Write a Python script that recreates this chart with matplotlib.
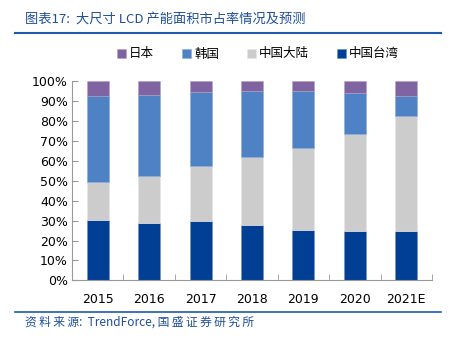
import numpy as np
import matplotlib
matplotlib.use("Agg")
import matplotlib.pyplot as plt
from matplotlib.ticker import PercentFormatter

plt.rcParams['font.family'] = ['Noto Sans CJK SC', 'DejaVu Sans']

years = ["2015", "2016", "2017", "2018", "2019", "2020", "2021E"]
taiwan = [30.2, 28.6, 29.8, 27.9, 25.4, 24.9, 24.9]
mainland = [19.0, 23.7, 27.5, 33.9, 41.1, 48.6, 57.7]
korea = [43.6, 41.0, 37.3, 33.3, 28.8, 20.8, 10.0]
japan = [7.2, 6.7, 5.4, 4.9, 4.7, 5.7, 7.4]

c_tw = "#003F94"
c_cn = "#CCCCCC"
c_kr = "#4F81C5"
c_jp = "#8064A2"


def spaced(s):
    # espacement entre caractères comme dans l'original
    return "\u2009".join(s)


fig = plt.figure(figsize=(4.53, 3.4), dpi=100)
ax = fig.add_axes([72 / 453, 1 - 280.3 / 340, 360 / 453, 199 / 340])

x = np.arange(len(years))
w = 0.43
b1 = np.array(taiwan)
b2 = b1 + np.array(mainland)
b3 = b2 + np.array(korea)
ax.bar(x, taiwan, w, color=c_tw, label="中国台湾", edgecolor="#6f8fc0", linewidth=0.4)
ax.bar(x, mainland, w, bottom=b1, color=c_cn, label="中国大陆", edgecolor="#e6e6e6", linewidth=0.4)
ax.bar(x, korea, w, bottom=b2, color=c_kr, label="韩国", edgecolor="#8aaad8", linewidth=0.4)
ax.bar(x, japan, w, bottom=b3, color=c_jp, label="日本", edgecolor="#b0a0c8", linewidth=0.4)

ax.set_xlim(-0.5, len(years) - 0.5)
ax.set_ylim(0, 100)
ax.set_yticks(np.arange(0, 101, 10))
ax.yaxis.set_major_formatter(PercentFormatter(decimals=0))
ax.set_xticks(x)
ax.set_xticklabels(years)
ax.set_xticks(np.arange(-0.5, len(years)), minor=True)
ax.tick_params(axis="x", which="major", length=0, labelsize=9, pad=9)
ax.tick_params(axis="x", which="minor", length=4, direction="in", color="#999999")
ax.tick_params(axis="y", length=4, direction="in", color="#999999", labelsize=9, pad=3)
for lab in ax.get_xticklabels() + ax.get_yticklabels():
    lab.set_family("DejaVu Sans")
for s in ["top", "right"]:
    ax.spines[s].set_visible(False)
for s in ["left", "bottom"]:
    ax.spines[s].set_color("#999999")
    ax.spines[s].set_linewidth(0.8)

handles, labels = ax.get_legend_handles_labels()
order = [3, 2, 1, 0]
fig.legend([handles[i] for i in order], [labels[i] for i in order],
           loc="center", bbox_to_anchor=(258 / 453, 1 - 54 / 340), ncol=4,
           frameon=False, fontsize=9, handlelength=0.7, handleheight=0.7,
           columnspacing=2.2, handletextpad=0.3)

fig.text(25 / 453, 1 - 19 / 340, "图表17:  大尺寸 LCD 产能面积市占率情况及预测",
         color="#1F4E9A", fontsize=9.5, va="center", ha="left", style="italic")
fig.add_artist(plt.Line2D([15 / 453, 441 / 453], [1 - 33 / 340, 1 - 33 / 340],
                          color="#1F5AAE", linewidth=1.5))
fig.add_artist(plt.Line2D([15 / 453, 441 / 453], [1 - 312 / 340, 1 - 312 / 340],
                          color="#1F5AAE", linewidth=1.2))
fig.text(25 / 453, 1 - 322 / 340, spaced("资料来源") + ":  TrendForce, " + spaced("国盛证券研究所"),
         color="#1F4E9A", fontsize=8.5, va="center", ha="left", style="italic")

fig.savefig("out.png", dpi=100)
